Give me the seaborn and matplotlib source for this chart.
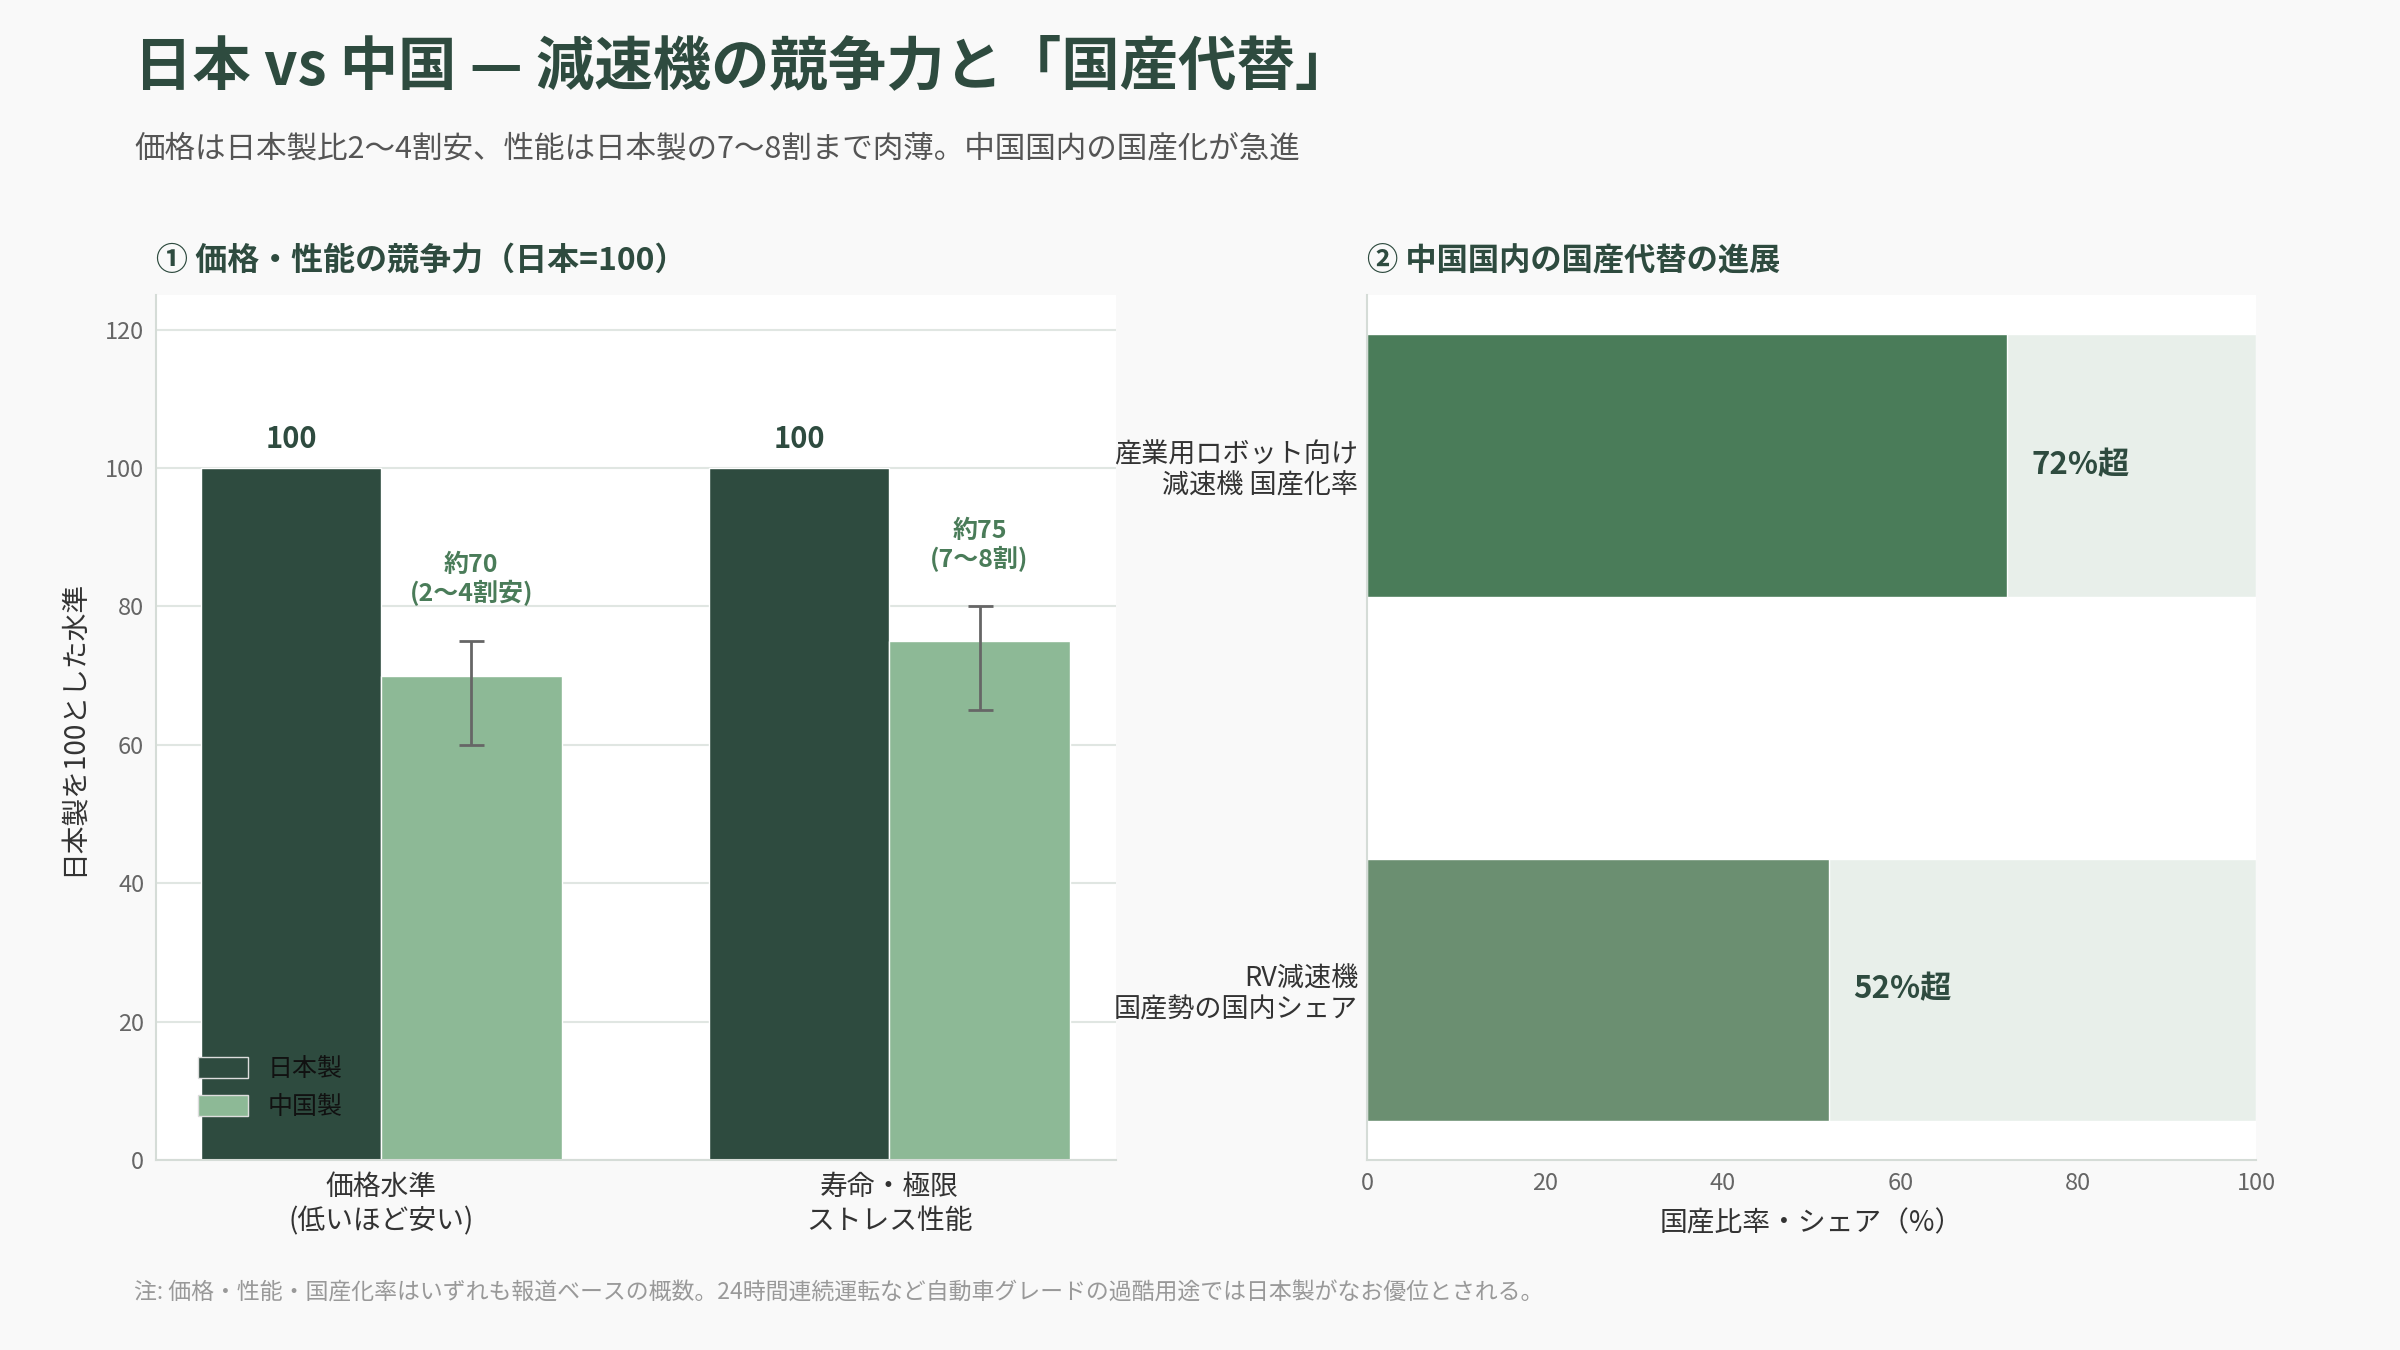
import pandas as pd
import seaborn as sns
import matplotlib.pyplot as plt

# data
categories = ["価格水準\n(低いほど安い)", "寿命・極限\nストレス性能"]
countries = ["日本製", "中国製"]
japan_vals = [100, 100]
china_vals = [70, 75]
china_low = [60, 65]
china_high = [75, 80]
china_notes = ["約70\n(2〜4割安)", "約75\n(7〜8割)"]

share_labels = ["産業用ロボット向け\n減速機 国産化率", "RV減速機\n国産勢の国内シェア"]
share_vals = [72, 52]
share_text = ["72%超", "52%超"]
share_full = [100, 100]

DARK = "#2e4b3f"
LIGHT = "#8db996"
MID = "#4a7c59"
MID2 = "#6b8f71"
BG = "#e8efea"

sns.set_style("white")
plt.rcParams['font.family'] = ['Noto Sans CJK JP', 'DejaVu Sans']

fig = plt.figure(figsize=(24, 13.5), dpi=100, facecolor="#f9f9f9")

fig.text(0.056, 0.95, "日本 vs 中国 — 減速機の競争力と「国産代替」", fontsize=42,
         fontweight="bold", color=DARK, va="center")
fig.text(0.056, 0.89, "価格は日本製比2〜4割安、性能は日本製の7〜8割まで肉薄。中国国内の国産化が急進",
         fontsize=22, color="#555555", va="center")
fig.text(0.056, 0.042, "注: 価格・性能・国産化率はいずれも報道ベースの概数。24時間連続運転など自動車グレードの過酷用途では日本製がなお優位とされる。",
         fontsize=16.5, color="#999999", va="center")

# ---- left panel
df = pd.DataFrame({
    "cat": categories * 2,
    "country": [countries[0]] * 2 + [countries[1]] * 2,
    "val": japan_vals + china_vals,
})

ax1 = fig.add_axes([0.065, 0.1407, 0.40, 0.6407])
ax1.set_facecolor("white")
sns.barplot(data=df, x="cat", y="val", hue="country", palette=[DARK, LIGHT],
            width=0.71, errorbar=None, saturation=1, edgecolor="white", linewidth=1, ax=ax1)

jp_bars = ax1.containers[0]
cn_bars = ax1.containers[1]
for bar, v in zip(jp_bars, japan_vals):
    ax1.text(bar.get_x() + bar.get_width() / 2, v + 2, str(v), ha="center", va="bottom",
             fontsize=21, fontweight="bold", color=DARK)
for bar, v, lo, hi, note in zip(cn_bars, china_vals, china_low, china_high, china_notes):
    cx = bar.get_x() + bar.get_width() / 2
    ax1.errorbar(cx, v, yerr=[[v - lo], [hi - v]], fmt="none", ecolor="#666666",
                 elinewidth=2, capsize=9, capthick=2)
    ax1.text(cx, hi + 5, note, ha="center", va="bottom", fontsize=18,
             fontweight="bold", color=MID, linespacing=1.15)

ax1.set_ylim(0, 125)
ax1.set_xlim(-0.443, 1.446)
ax1.set_yticks([0, 20, 40, 60, 80, 100, 120])
ax1.yaxis.grid(True, color="#e0e6e2", linewidth=1.5)
ax1.set_axisbelow(True)
ax1.set_xlabel("")
ax1.set_ylabel("日本製を100とした水準", fontsize=20, color="#333333", labelpad=12)
ax1.tick_params(axis="y", labelsize=17, labelcolor="#666666", color="#999999", length=5)
ax1.tick_params(axis="x", labelsize=20, labelcolor="#333333", color="#555555", length=5)
for s in ["top", "right"]:
    ax1.spines[s].set_visible(False)
for s in ["left", "bottom"]:
    ax1.spines[s].set_color("#d5dcd7")
    ax1.spines[s].set_linewidth(1.5)
ax1.legend(loc="lower left", bbox_to_anchor=(0.02, 0.02), frameon=False, fontsize=18,
           handlelength=2.0, handleheight=0.9, labelspacing=0.5, labelcolor="#111111")
for h in ax1.get_legend().legend_handles:
    h.set_edgecolor("#dddddd")
fig.text(0.065, 0.807, "① 価格・性能の競争力（日本=100）", fontsize=23, fontweight="bold",
         color=DARK, va="center")

# ---- right panel
ax2 = fig.add_axes([0.5696, 0.1407, 0.3704, 0.6407])
ax2.set_facecolor("white")
sns.barplot(x=share_full, y=share_labels, color=BG, width=0.5, saturation=1, ax=ax2)
sns.barplot(x=share_vals, y=share_labels, hue=share_labels, palette=[MID, MID2],
            width=0.5, legend=False, saturation=1, edgecolor="white", linewidth=1, ax=ax2)
for i, (v, t) in enumerate(zip(share_vals, share_text)):
    ax2.text(v + 2.7, i, t, ha="left", va="center", fontsize=22.5, fontweight="bold", color=DARK)

ax2.set_xlim(0, 100)
ax2.set_ylim(1.325, -0.325)
ax2.set_xticks([0, 20, 40, 60, 80, 100])
ax2.set_xlabel("国産比率・シェア（%）", fontsize=20, color="#333333", labelpad=10)
ax2.set_ylabel("")
ax2.tick_params(axis="x", labelsize=17, labelcolor="#666666", color="#999999", length=5)
ax2.tick_params(axis="y", labelsize=19.5, labelcolor="#333333", color="#333333", length=3)
for s in ["top", "right"]:
    ax2.spines[s].set_visible(False)
for s in ["left", "bottom"]:
    ax2.spines[s].set_color("#d5dcd7")
    ax2.spines[s].set_linewidth(1.5)
fig.text(0.5696, 0.807, "② 中国国内の国産代替の進展", fontsize=22.5, fontweight="bold",
         color=DARK, va="center")

fig.savefig("out.png", dpi=100, facecolor=fig.get_facecolor())
